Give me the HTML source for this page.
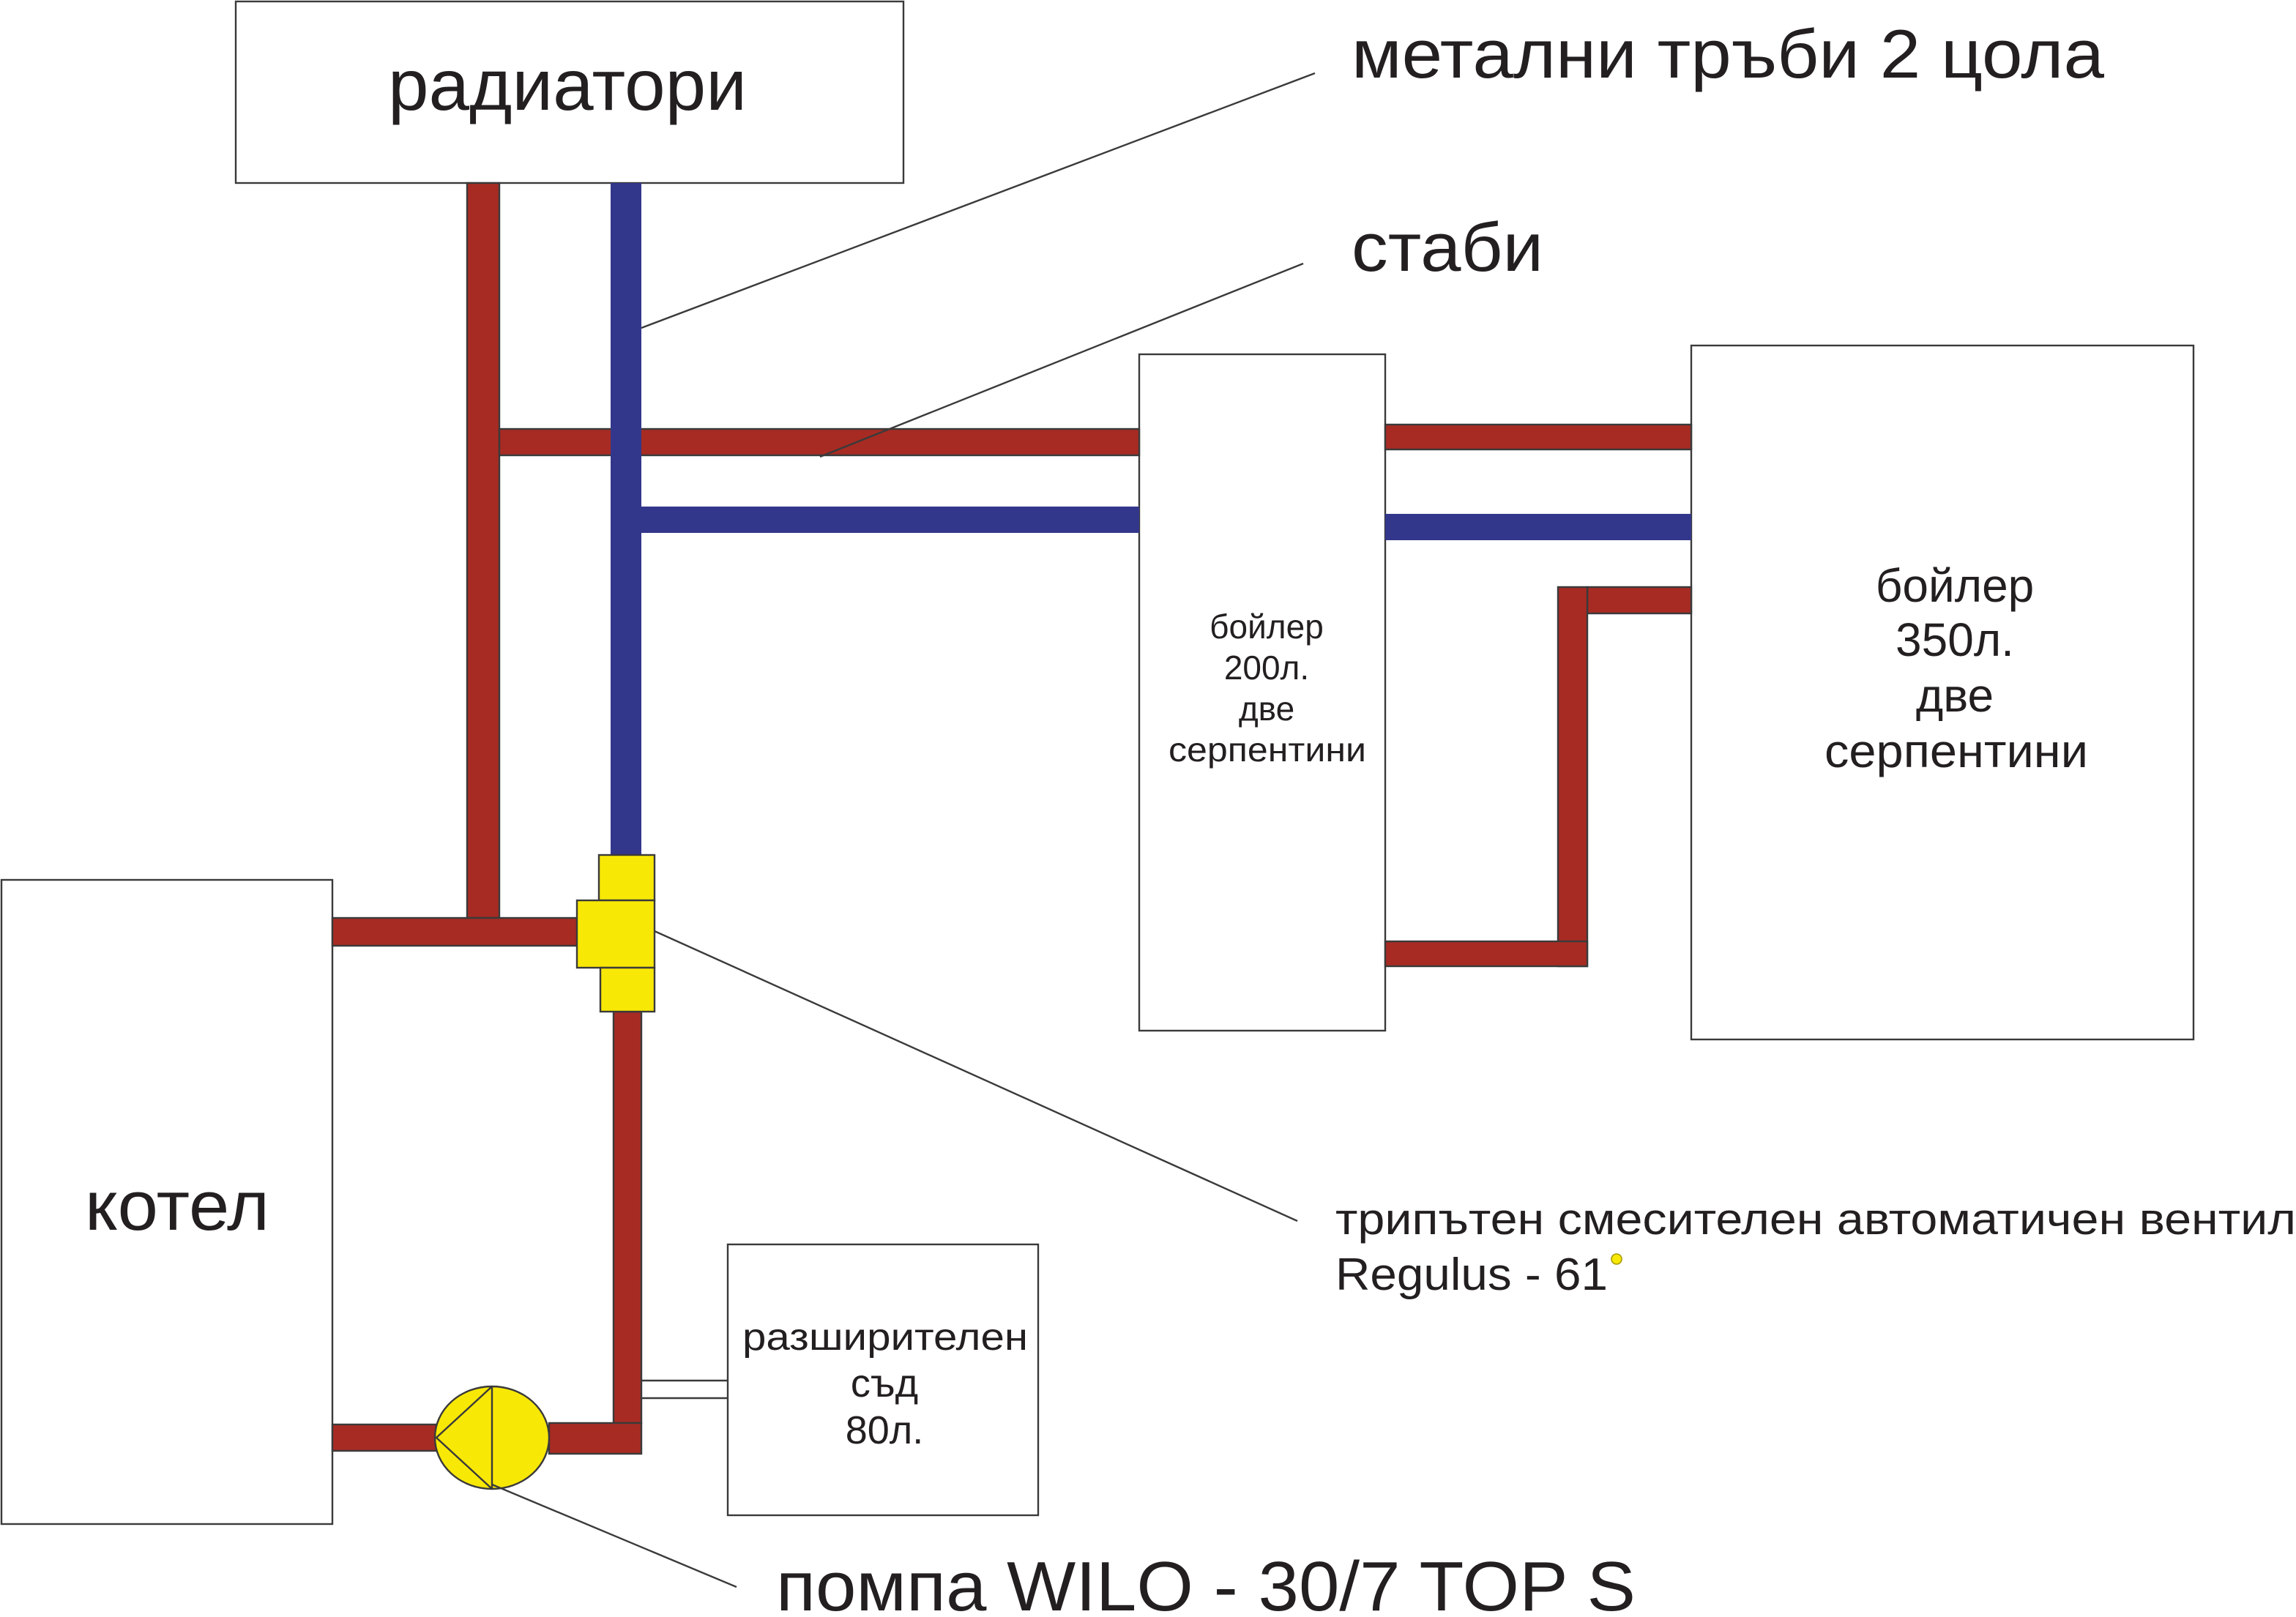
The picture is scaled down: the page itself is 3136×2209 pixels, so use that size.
<!DOCTYPE html>
<html><head><meta charset="utf-8"><style>
html,body{margin:0;padding:0;background:#fff;}
svg{display:block;}
text{font-family:"Liberation Sans",sans-serif;fill:#231f20;}
</style></head><body>
<svg width="3136" height="2209" viewBox="0 0 1568 1104.5" xmlns="http://www.w3.org/2000/svg">
<rect width="1568" height="1104.5" fill="#fff"/>
<g stroke="#3a3a3a" stroke-width="1.2">
<rect x="161" y="1" width="456" height="124" fill="#fff"/>
<rect x="778" y="242" width="168" height="462" fill="#fff"/>
<rect x="1155" y="236" width="343" height="474" fill="#fff"/>
<rect x="1" y="601" width="226" height="440" fill="#fff"/>
<rect x="497" y="850" width="212" height="185" fill="#fff"/>
<rect x="319" y="125" width="22" height="502" fill="#a72b23"/>
<rect x="341" y="293" width="437" height="18" fill="#a72b23"/>
<rect x="417" y="125" width="21" height="460" fill="#33378b" stroke="none"/>
<rect x="438" y="346" width="340" height="18" fill="#33378b" stroke="none"/>
<rect x="946" y="290" width="209" height="17" fill="#a72b23"/>
<rect x="946" y="351" width="209" height="18" fill="#33378b" stroke="none"/>
<rect x="1084" y="401" width="71" height="18" fill="#a72b23"/>
<rect x="1064" y="401" width="20" height="259" fill="#a72b23"/>
<rect x="946" y="643" width="138" height="17" fill="#a72b23"/>
<rect x="227" y="627" width="168" height="19" fill="#a72b23"/>
<rect x="419" y="691" width="19" height="281" fill="#a72b23"/>
<rect x="375" y="972" width="63" height="21" fill="#a72b23"/>
<rect x="227" y="973" width="71" height="18" fill="#a72b23"/>
<rect x="409" y="584" width="38" height="31" fill="#f8e806"/>
<rect x="394" y="615" width="53" height="46" fill="#f8e806"/>
<rect x="410" y="661" width="37" height="30" fill="#f8e806"/>
<ellipse cx="336" cy="982" rx="39" ry="35" fill="#f8e806"/>
<polyline points="336,947 298,982 336,1017" fill="none"/>
<line x1="336" y1="947" x2="336" y2="1017"/>
<line x1="438" y1="943" x2="497" y2="943"/>
<line x1="438" y1="955" x2="497" y2="955"/>
<line x1="438" y1="224" x2="898" y2="50"/>
<line x1="560" y1="312" x2="890" y2="180"/>
<line x1="447" y1="636" x2="886" y2="834"/>
<line x1="336" y1="1014" x2="503" y2="1084"/>
</g>
<text x="265" y="75" font-size="49" textLength="245" lengthAdjust="spacingAndGlyphs">радиатори</text>
<text x="923" y="53" font-size="47" textLength="514" lengthAdjust="spacingAndGlyphs">метални тръби 2 цола</text>
<text x="923" y="185" font-size="47" textLength="131" lengthAdjust="spacingAndGlyphs">стаби</text>
<g font-size="23" text-anchor="middle">
<text x="865" y="436">бойлер</text><text x="865" y="464">200л.</text><text x="865" y="492">две</text>
</g>
<text x="798" y="520" font-size="23" textLength="135" lengthAdjust="spacingAndGlyphs">серпентини</text>
<g font-size="32" text-anchor="middle">
<text x="1335" y="411">бойлер</text><text x="1335" y="448">350л.</text><text x="1335" y="486">две</text>
</g>
<text x="1246" y="524" font-size="32" textLength="180" lengthAdjust="spacingAndGlyphs">серпентини</text>
<text x="58" y="840" font-size="48" textLength="126" lengthAdjust="spacingAndGlyphs">котел</text>
<text x="912" y="843" font-size="30" textLength="656" lengthAdjust="spacingAndGlyphs">трипътен смесителен автоматичен вентил</text>
<text x="912" y="881" font-size="31" textLength="186" lengthAdjust="spacingAndGlyphs">Regulus - 61</text>
<circle cx="1104" cy="860" r="3.5" fill="#f8e806" stroke="#a89a00" stroke-width="0.8"/>
<text x="507" y="922" font-size="26" textLength="195" lengthAdjust="spacingAndGlyphs">разширителен</text>
<g font-size="27" text-anchor="middle">
<text x="604" y="954">съд</text><text x="604" y="986">80л.</text>
</g>
<text x="530" y="1100" font-size="48" textLength="587" lengthAdjust="spacingAndGlyphs">помпа WILO - 30/7 TOP S</text>
</svg>
</body></html>
